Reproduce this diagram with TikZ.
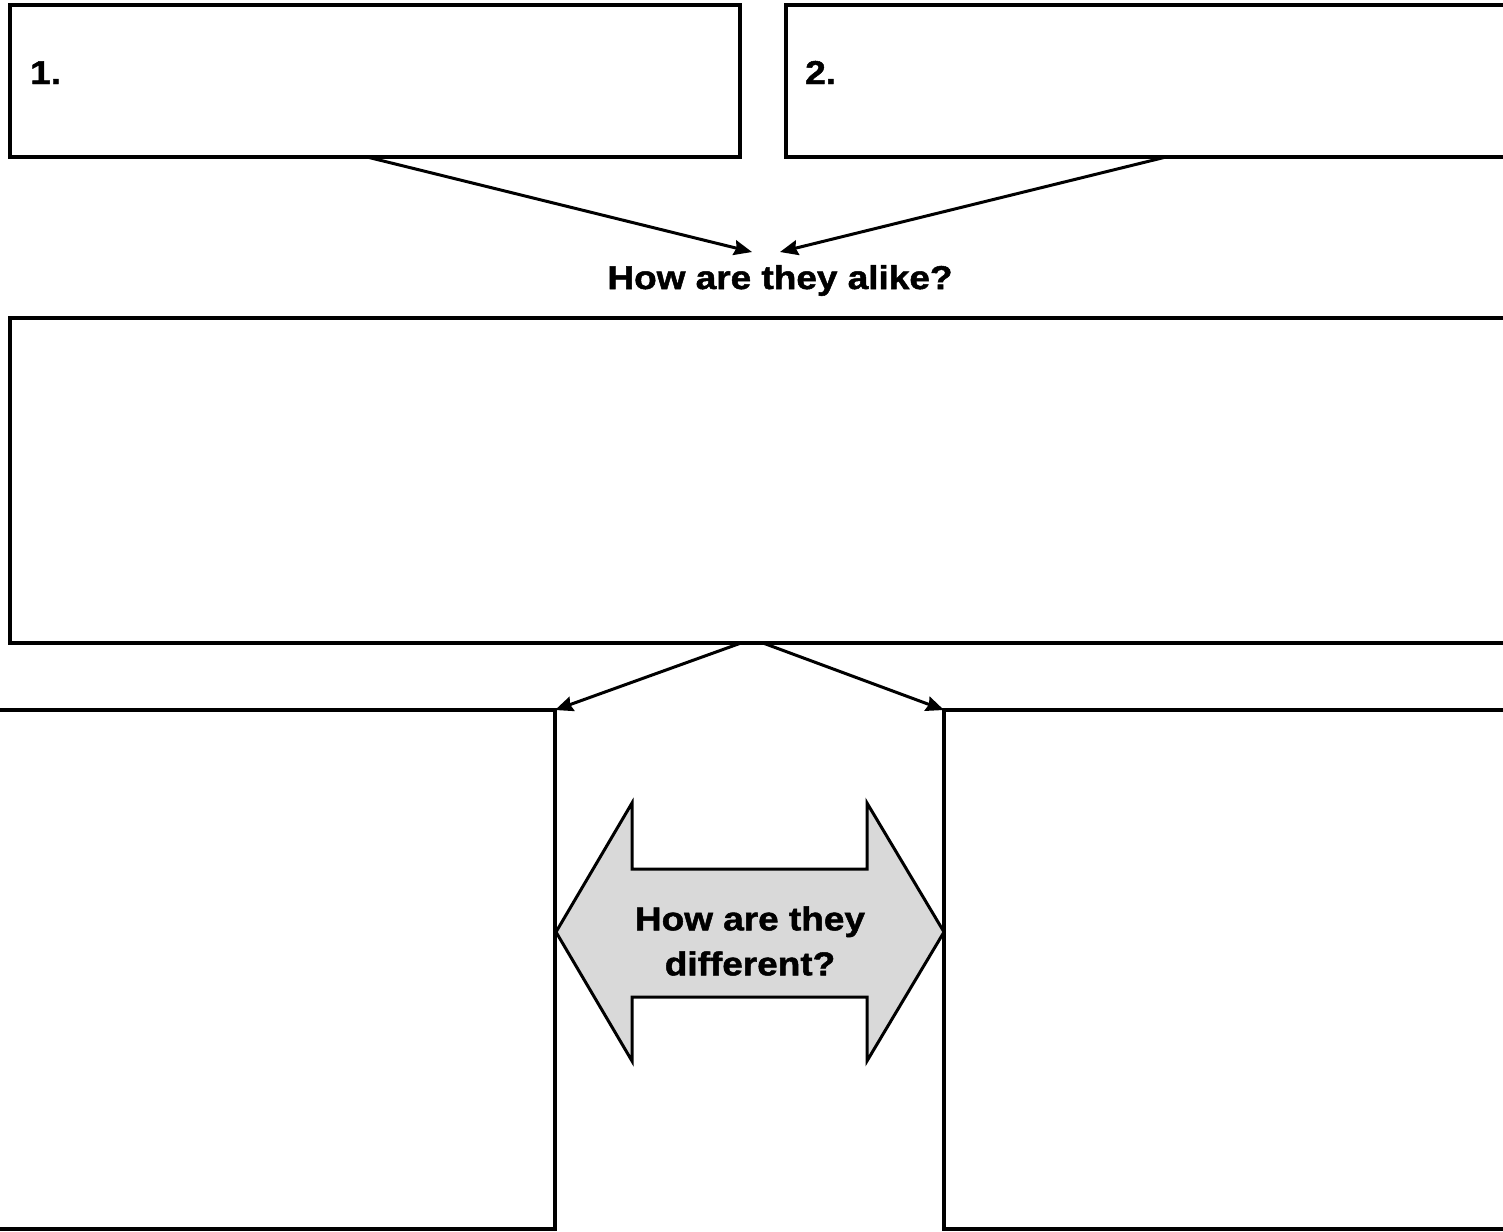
\documentclass[tikz,border=0pt]{standalone}
\usepackage{fontspec}
\setmainfont{Liberation Sans}[FakeStretch=1.12,FakeBold=1.5]
\usetikzlibrary{arrows.meta}
\definecolor{arrowgray}{HTML}{D9D9D9}
\begin{document}
\begin{tikzpicture}[x=1pt,y=-1pt,
  box/.style={draw=black, line width=3.5pt, inner sep=0pt, outer sep=0pt, anchor=north west},
  conn/.style={line width=3pt, -{Stealth[length=18pt,width=15pt,inset=2pt]}},
  lbl/.style={font=\bfseries\fontsize{33}{45}\selectfont, inner sep=0pt, text=black},
  bigarrow/.style={draw=black, line width=3pt, fill=arrowgray, line join=miter}]
\useasboundingbox (0,0) rectangle (1503,1231);
\clip (0,0) rectangle (1503,1231);
% boxes
\node[box, minimum width=730pt, minimum height=152pt] (b1) at (10,5) {};
\node[box, minimum width=760pt, minimum height=152pt] (b2) at (786,5) {};
\node[box, minimum width=1520pt, minimum height=325pt] (mid) at (10,318) {};
\node[box, minimum width=575pt, minimum height=519pt] (bl) at (-20,710) {};
\node[box, minimum width=600pt, minimum height=519pt] (br) at (944,710) {};
% labels
\node[lbl, anchor=base west] (n1) at (30,84) {1.};
\node[lbl, anchor=base west] (n2) at (805,84) {2.};
\node[lbl, anchor=base] (alike) at (780,289) {How are they alike?};
% connector targets
\coordinate (t1) at (752,252);
\coordinate (t2) at (780,252);
\coordinate (s1) at (367,157);
\coordinate (s2) at (1166,157);
\coordinate (m1) at (741,643);
\coordinate (m2) at (763,643);
\draw[conn] (s1) -- (t1);
\draw[conn] (s2) -- (t2);
\draw[conn] (m1) -- (bl.north east);
\draw[conn] (m2) -- (br.north west);
% double arrow
\draw[bigarrow] (556,932) -- (632,803) -- (632,869) -- (867,869) -- (867,803) -- (944,932)
  -- (867,1061) -- (867,997) -- (632,997) -- (632,1061) -- cycle;
\node[lbl, align=center] (diff) at (750,941) {How are they\\different?};
\end{tikzpicture}
\end{document}
